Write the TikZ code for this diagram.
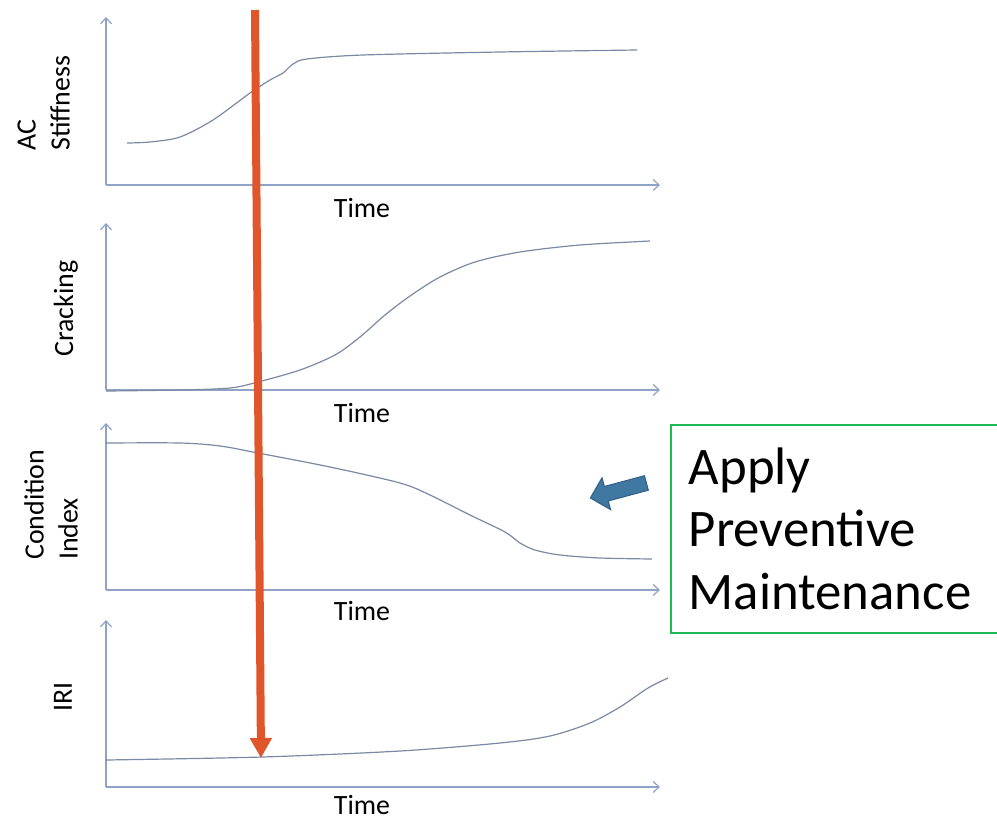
\documentclass[tikz,border=0pt]{standalone}
\usepackage{fontspec}
\setmainfont{Carlito}
\usepackage{tikz}
\usetikzlibrary{shapes.arrows}
\usetikzlibrary{arrows.meta}
\definecolor{axisblue}{HTML}{8EA3C6}
\definecolor{curvegray}{HTML}{7A8AA4}
\definecolor{pmorange}{HTML}{E0552A}
\definecolor{pmgreen}{HTML}{1DB954}
\definecolor{pmblue}{HTML}{4178A2}
\definecolor{pmblueline}{HTML}{2E5F86}

\begin{document}
\begin{tikzpicture}[x=1bp,y=-1bp,
  axis/.style={draw=axisblue,line width=1.2bp,-{Straight Barb[length=6bp,width=11bp]}},
  curve/.style={draw=curvegray,line width=1.2bp,smooth},
  ylab/.style={rotate=90,anchor=south west,inner sep=0pt,align=left,font=\fontsize{28}{34}\selectfont},
  tlab/.style={anchor=base,inner sep=0pt,font=\fontsize{28}{34}\selectfont},
  pmline/.style={draw=pmorange,line width=8bp,-{Triangle[length=20bp,width=21bp]}},
  pmarrow/.style={single arrow,draw=pmblueline,fill=pmblue,line width=1bp,inner sep=7bp,single arrow head extend=9bp,minimum height=58bp,minimum width=0pt},
  pmbox/.style={draw=pmgreen,line width=1.5bp,minimum height=208bp,text width=294bp,inner xsep=18bp,align=left,font=\fontsize{53}{62.5}\selectfont}]
  \useasboundingbox (0,0) rectangle (997,824);
  \fill[white] (0,0) rectangle (997,824);
  \foreach \i/\o/\t/\b in {1/185/17/217,2/390/223/422,3/590/423/620,4/787/620/814}{
    \coordinate (o\i) at (106,\o);
    \coordinate (y\i) at (106,\t);
    \coordinate (x\i) at (660,\o);
    \draw[axis] (o\i)--(y\i);
    \draw[axis] (o\i)--(x\i);
    \node[tlab](time\i) at (362,\b) {Time};
  }
  \node[ylab](stiff) at (70,151) {AC\\Stiffness};
  \node[ylab](crack) at (78,357) {Cracking};
  \node[ylab](cond) at (78,560) {Condition\\Index};
  \node[ylab](iri) at (72,712) {IRI};
  \draw[curve] plot coordinates {(127,143) (150,142) (180,137) (213,120) (250,93) (270,80) (283,73) (293,64) (307,59) (363,55) (500,52) (637,50)};
  \draw[curve] plot coordinates {(106,391) (180,390) (230,388) (258,382) (300,370) (335,355) (360,337) (385,315) (410,296) (440,277) (475,262) (520,252) (580,245) (650,241)};
  \draw[curve] plot coordinates {(106,443) (180,443) (220,446) (258,453) (330,467) (400,483) (430,495) (470,515) (505,532) (520,543) (535,550) (560,555) (600,558) (652,559)};
  \draw[curve] plot coordinates {(106,760) (262,757) (400,751) (500,743) (550,736) (590,723) (620,707) (648,688) (668,678)};
  \coordinate (pmtop) at (255,10);
  \coordinate (pmtip) at (261,758);
  \draw[pmline] (pmtop)--(pmtip);
  \node[pmbox,anchor=north west](pmnote) at (670,424) {Apply\\Preventive\\Maintenance};
  \node[pmarrow,rotate=195](pmpoint) at (622,489.5) {};
\end{tikzpicture}
\end{document}
